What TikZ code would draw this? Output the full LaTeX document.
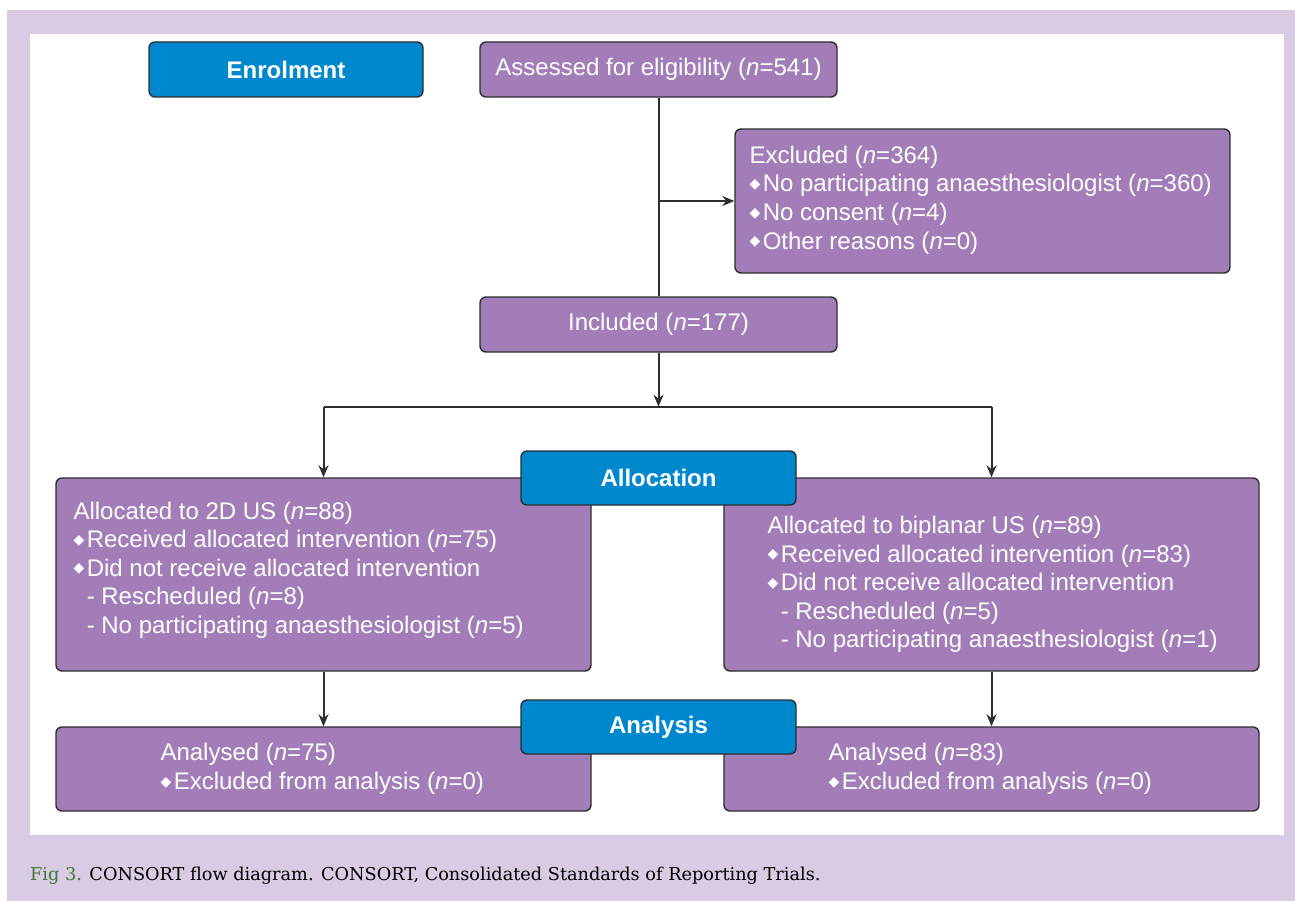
\documentclass[tikz,border=0pt]{standalone}
\usepackage{fontspec}
\setmainfont{Liberation Sans}
\newfontfamily\capfont{DejaVu Serif}
\newfontfamily\symfont{DejaVu Sans}
\usetikzlibrary{arrows.meta,positioning}

\definecolor{lilac}{HTML}{D8CBE3}
\definecolor{boxpurple}{HTML}{A27DB8}
\definecolor{stageblue}{HTML}{0088CF}
\definecolor{edgegray}{HTML}{2E2E2E}
\definecolor{figgreen}{HTML}{3E7A34}

\newcommand{\bul}{{\symfont\fontsize{14}{14}\selectfont\raisebox{3.5pt}{◆}}\hspace{2.5pt}}
\newcommand{\subind}{\hphantom{\bul}}
\newcommand{\nn}{\textit{n}}

\begin{document}
\begin{tikzpicture}[x=1pt,y=-1pt,
    box/.style={draw=edgegray,line width=1.4pt,fill=boxpurple,rounded corners=6pt,
      inner sep=0pt,text=white,font=\fontsize{24}{29}\selectfont},
    stage/.style={box,fill=stageblue,font=\fontsize{24}{29}\selectfont\bfseries,
      minimum width=275pt,minimum height=54pt},
    txt/.style={inner sep=0pt,anchor=west,align=left,text=white,
      font=\fontsize{24}{28.6}\selectfont},
    flow/.style={draw=edgegray,line width=2pt},
    arr/.style={flow,-{Stealth[length=12pt,width=10pt]}}]
  \useasboundingbox (0,0) rectangle (1295,901);
  \fill[lilac] (7,10) rectangle (1295,901);
  \fill[white] (30,34) rectangle (1284,835);

  % top part
  \node[stage,minimum width=274pt,minimum height=55pt] (enrol) at (286,69.5) {Enrolment};
  \node[box,minimum width=357pt,minimum height=55pt] (assess) at (658.5,69.5)
    {Assessed for eligibility (\nn=541)};
  \node[box,minimum width=495pt,minimum height=144pt] (excl) at (982.5,201) {};
  \node[txt] (excltxt) at ([xshift=15pt,yshift=1pt]excl.west)
    {Excluded (\nn=364)\\\bul No participating anaesthesiologist (\nn=360)\\
     \bul No consent (\nn=4)\\\bul Other reasons (\nn=0)};
  \node[box,minimum width=357pt,minimum height=55pt] (incl) at (658.5,324.5)
    {Included (\nn=177)};
  \coordinate (split) at ([yshift=-54pt]incl.south);

  % allocation
  \node[box,minimum width=535pt,minimum height=193pt] (alloctwo) at (323.5,574.5) {};
  \node[txt] (alloctwotxt) at ([xshift=18pt,yshift=4.5pt]alloctwo.west)
    {Allocated to 2D US (\nn=88)\\\bul Received allocated intervention (\nn=75)\\
     \bul Did not receive allocated intervention\\
     \subind- Rescheduled (\nn=8)\\
     \subind- No participating anaesthesiologist (\nn=5)};
  \node[box,minimum width=535pt,minimum height=193pt] (allocbi) at (991.5,574.5) {};
  \node[txt] (allocbitxt) at ([xshift=44pt,yshift=-10pt]allocbi.west)
    {Allocated to biplanar US (\nn=89)\\\bul Received allocated intervention (\nn=83)\\
     \bul Did not receive allocated intervention\\
     \subind- Rescheduled (\nn=5)\\
     \subind- No participating anaesthesiologist (\nn=1)};
  \node[stage] (alloc) at (658.5,478) {Allocation};

  % analysis
  \node[box,minimum width=535pt,minimum height=84pt] (analtwo) at (323.5,769) {};
  \node[txt] (analtwotxt) at ([xshift=105pt]analtwo.west)
    {Analysed (\nn=75)\\\bul Excluded from analysis (\nn=0)};
  \node[box,minimum width=535pt,minimum height=84pt] (analbi) at (991.5,769) {};
  \node[txt] (analbitxt) at ([xshift=105pt]analbi.west)
    {Analysed (\nn=83)\\\bul Excluded from analysis (\nn=0)};
  \node[stage] (anal) at (658.5,727) {Analysis};

  \draw[flow] (assess) -- (incl);
  \draw[arr] (assess.south |- excl.west) -- (excl.west);
  \draw[arr] (incl) -- (split);
  \draw[flow] (split -| alloctwo.north) -- (split -| allocbi.north);
  \draw[arr] (split -| alloctwo.north) -- (alloctwo.north);
  \draw[arr] (split -| allocbi.north) -- (allocbi.north);
  \draw[arr] (alloctwo) -- (analtwo);
  \draw[arr] (allocbi) -- (analbi);

  \node[anchor=base west,inner sep=0pt,font=\capfont\fontsize{17.7}{20}\selectfont]
    (caption) at (30,880) {\textcolor{figgreen}{Fig 3.} CONSORT flow diagram. CONSORT,
    Consolidated Standards of Reporting Trials.};
\end{tikzpicture}
\end{document}
